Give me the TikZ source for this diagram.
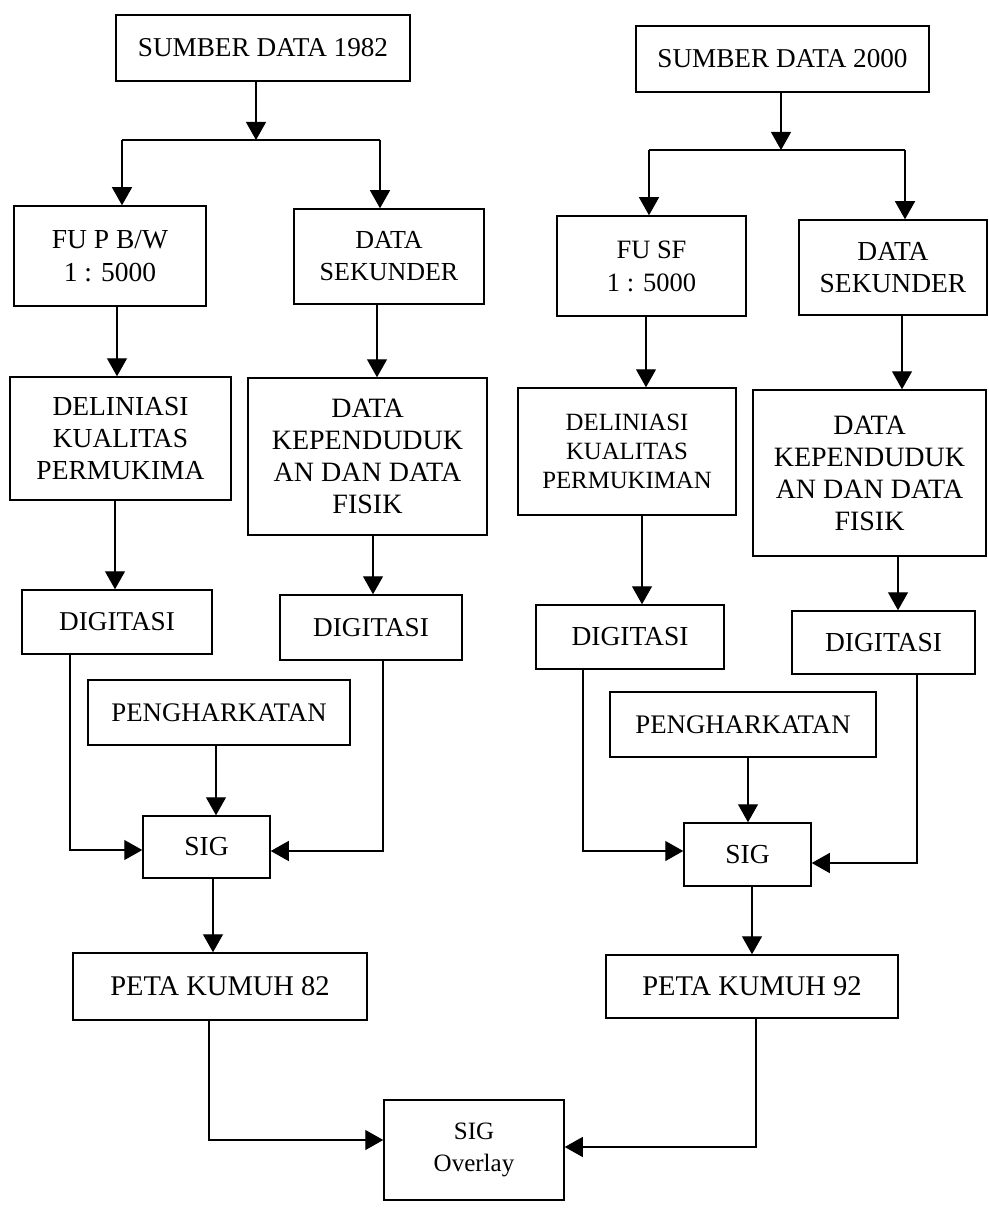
\documentclass[tikz,border=0pt]{standalone}
\usepackage{fontspec}
\setmainfont{Liberation Serif}
\usetikzlibrary{arrows.meta}
\tikzset{
  bx/.style={draw, line width=1.5pt, inner sep=0pt, align=center},
  cn/.style={line width=1.3pt},
  ar/.style={cn, -{Triangle[width=20pt,length=18pt]}}
}
\newcommand\fs[2]{\fontsize{#1}{#2}\selectfont}
% #1 opts, #2 name, #3 x1, #4 x2, #5 y1, #6 y2, #7 text
\newcommand\bbox[7][]{%
  \node[bx, minimum width={#4pt-#3pt}, minimum height={#6pt-#5pt}, #1]
    (#2) at ({(#3+#4)/2},{(#5+#6)/2}) {#7};}
\begin{document}
\begin{tikzpicture}[x=1pt, y=-1pt]
\useasboundingbox (0,0) rectangle (988,1230);

% ---------------- left column ----------------
\bbox[font=\fs{27.2}{30}]{s82}{116}{410}{15}{81}{SUMBER DATA 1982}
\bbox[font=\fs{27.5}{33}]{fu82}{14}{206}{206}{306}{FU P B/W\\1 : 5000}
\bbox[font=\fs{26}{32}]{ds82}{294}{484}{209}{304}{DATA\\SEKUNDER}
\bbox[font=\fs{27.5}{32}]{del82}{10}{231}{377}{500}{DELINIASI\\KUALITAS\\PERMUKIMA}
\bbox[font=\fs{28}{32}]{kep82}{248}{487}{378}{535}{DATA\\KEPENDUDUK\\AN DAN DATA\\FISIK}
\bbox[font=\fs{27.2}{32}]{dig82a}{22}{212}{590}{654}{DIGITASI}
\bbox[font=\fs{27.2}{32}]{dig82b}{280}{462}{595}{660}{DIGITASI}
\bbox[font=\fs{26.8}{30}]{pen82}{88}{350}{680}{745}{PENGHARKATAN}
\bbox[font=\fs{27.5}{32}]{sig82}{143}{270}{816}{878}{SIG}
\bbox[font=\fs{28.5}{32}]{peta82}{73}{367}{953}{1020}{PETA KUMUH 82}

% ---------------- right column ----------------
\bbox[font=\fs{27.2}{30}]{s00}{636}{929}{26}{92}{SUMBER DATA 2000}
\bbox[font=\fs{26.5}{33}]{fu00}{557}{746}{216}{316}{FU SF\\1 : 5000}
\bbox[font=\fs{27.5}{32}]{ds00}{799}{987}{220}{315}{DATA\\SEKUNDER}
\bbox[font=\fs{24.8}{29}]{del00}{518}{736}{388}{515}{DELINIASI\\KUALITAS\\PERMUKIMAN}
\bbox[font=\fs{28}{32}]{kep00}{753}{986}{390}{556}{DATA\\KEPENDUDUK\\AN DAN DATA\\FISIK}
\bbox[font=\fs{27.5}{32}]{dig00a}{536}{724}{605}{669}{DIGITASI}
\bbox[font=\fs{27.5}{32}]{dig00b}{792}{975}{611}{674}{DIGITASI}
\bbox[font=\fs{26.8}{30}]{pen00}{610}{876}{692}{757}{PENGHARKATAN}
\bbox[font=\fs{27.5}{32}]{sig00}{684}{811}{823}{886}{SIG}
\bbox[font=\fs{28.5}{32}]{peta00}{606}{898}{955}{1018}{PETA KUMUH 92}

% ---------------- bottom ----------------
\bbox[font=\fs{25}{32}]{ovl}{384}{564}{1100}{1200}{SIG\\Overlay}

% ---------------- connectors, left ----------------
\coordinate (j82) at (256,140);
\coordinate (l82) at (122,140);
\coordinate (r82) at (380,140);
\draw[ar] (s82.south -| j82) -- (j82);
\draw[cn] (l82) -- (r82);
\draw[ar] (l82) -- (fu82.north -| l82);
\draw[ar] (r82) -- (ds82.north -| r82);

\coordinate (xa) at (117,0);
\coordinate (xb) at (377,0);
\coordinate (xc) at (115,0);
\coordinate (xd) at (373,0);
\coordinate (xe) at (216,0);
\coordinate (xf) at (213,0);
\draw[ar] (fu82.south -| xa) -- (del82.north -| xa);
\draw[ar] (ds82.south -| xb) -- (kep82.north -| xb);
\draw[ar] (del82.south -| xc) -- (dig82a.north -| xc);
\draw[ar] (kep82.south -| xd) -- (dig82b.north -| xd);
\draw[ar] (pen82.south -| xe) -- (sig82.north -| xe);
\draw[ar] (sig82.south -| xf) -- (peta82.north -| xf);

\coordinate (ka) at (70,850);
\coordinate (kb) at (383,851);
\draw[ar] (dig82a.south -| ka) -- (ka) -- (sig82.west |- ka);
\draw[ar] (dig82b.south -| kb) -- (kb) -- (sig82.east |- kb);

% ---------------- connectors, right ----------------
\coordinate (j00) at (781,150);
\coordinate (l00) at (649,150);
\coordinate (r00) at (905,150);
\draw[ar] (s00.south -| j00) -- (j00);
\draw[cn] (l00) -- (r00);
\draw[ar] (l00) -- (fu00.north -| l00);
\draw[ar] (r00) -- (ds00.north -| r00);

\coordinate (ya) at (646,0);
\coordinate (yb) at (902,0);
\coordinate (yc) at (642,0);
\coordinate (yd) at (898,0);
\coordinate (ye) at (748,0);
\coordinate (yf) at (752,0);
\draw[ar] (fu00.south -| ya) -- (del00.north -| ya);
\draw[ar] (ds00.south -| yb) -- (kep00.north -| yb);
\draw[ar] (del00.south -| yc) -- (dig00a.north -| yc);
\draw[ar] (kep00.south -| yd) -- (dig00b.north -| yd);
\draw[ar] (pen00.south -| ye) -- (sig00.north -| ye);
\draw[ar] (sig00.south -| yf) -- (peta00.north -| yf);

\coordinate (ma) at (583,851);
\coordinate (mb) at (917,863);
\draw[ar] (dig00a.south -| ma) -- (ma) -- (sig00.west |- ma);
\draw[ar] (dig00b.south -| mb) -- (mb) -- (sig00.east |- mb);

% ---------------- to overlay ----------------
\coordinate (oa) at (209,1140);
\coordinate (ob) at (756,1147);
\draw[ar] (peta82.south -| oa) -- (oa) -- (ovl.west |- oa);
\draw[ar] (peta00.south -| ob) -- (ob) -- (ovl.east |- ob);
\end{tikzpicture}
\end{document}
